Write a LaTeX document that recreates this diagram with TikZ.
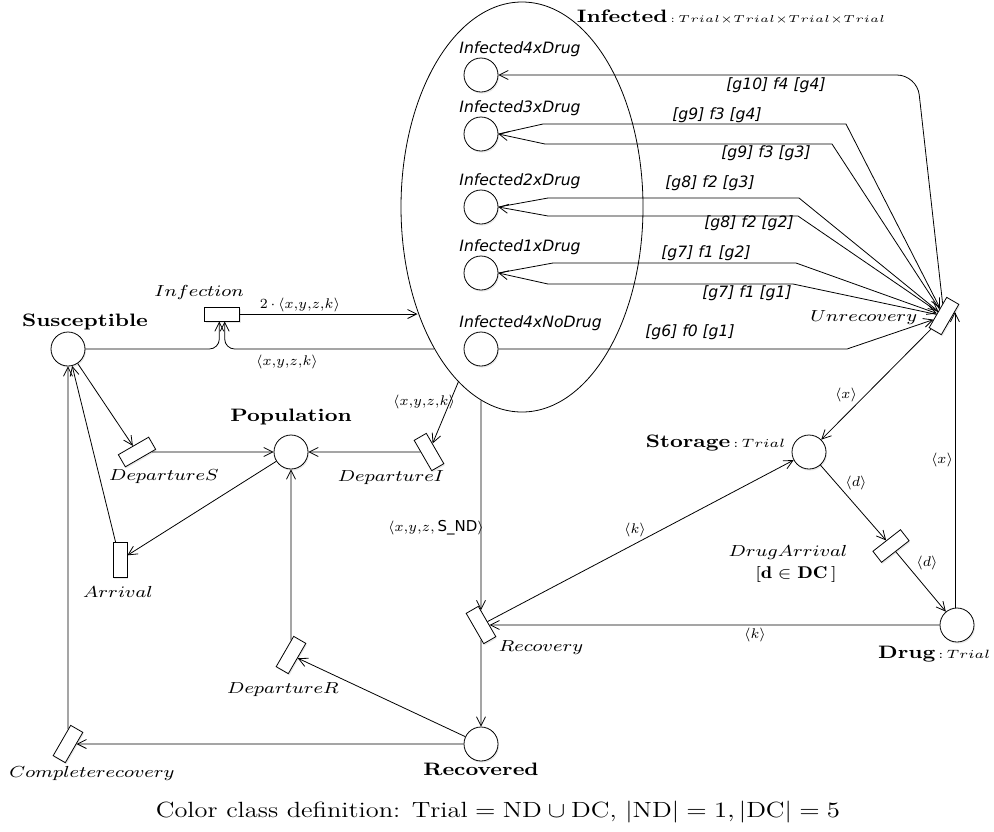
\documentclass[tikz,border=0pt]{standalone}
\usepackage{fontspec}
\newfontfamily\dvsans{DejaVu Sans}
\usepackage{amssymb}
\usetikzlibrary{arrows.meta,positioning,calc,shapes.geometric,shadows}

\begin{document}
\begin{tikzpicture}[x=0.5pt,y=-0.5pt, every node/.style={inner sep=1pt},
  place/.style={circle,draw,fill=white,minimum size=17pt,inner sep=0pt,drop shadow={opacity=0.18,shadow xshift=0.5pt,shadow yshift=-0.8pt}},
  trans/.style={rectangle,draw,fill=white,minimum width=17.5pt,minimum height=7pt,inner sep=0pt,drop shadow={opacity=0.18,shadow xshift=0.5pt,shadow yshift=-0.8pt}},
  arc/.style={-{Straight Barb[length=4.5pt,width=4.5pt]}},
  plbl/.style={font=\fontsize{9}{11}\selectfont\bfseries,xscale=1.2},
  tlbl/.style={font=\fontsize{8.5}{10}\selectfont,xscale=1.2},
  albl/.style={font=\fontsize{7.5}{9}\selectfont},
  slbl/.style={font=\dvsans\fontsize{7.8}{9}\selectfont\itshape}]
  \useasboundingbox (0,0) rectangle (994,831);

  \node[ellipse,draw,minimum width=121pt,minimum height=205pt,inner sep=0pt] (infected) at (522,207) {};
  \node[plbl,anchor=west] (infected-lbl) at (574,17) {Infected{\mdseries\fontsize{4.8}{7}\selectfont$\,{:}\,Trial{\times}Trial{\times}Trial{\times}Trial$}};
  \foreach \n/\y/\txt in {i4/75/Infected4xDrug,i3/134/Infected3xDrug,i2/207/Infected2xDrug,i1/273/Infected1xDrug,i0/349/Infected4xNoDrug}{
    \node[place] (\n) at (481,\y) {};
    \node[slbl,anchor=west] (\n-lbl) at (457,\y-26) {\txt};
  }

  \node[place] (sus) at (68,349) {};
  \node[place] (pop) at (291,452) {};
  \node[place] (recd) at (481,744) {};
  \node[place] (storage) at (809,452) {};
  \node[place] (drug) at (957,625) {};
  \node[plbl] (sus-lbl) at (85,322) {Susceptible};
  \node[plbl] (pop-lbl) at (291,417) {Population};
  \node[plbl] (recd-lbl) at (481,769) {Recovered};
  \node[plbl,anchor=east] (storage-lbl) at (788,443) {Storage{\mdseries\fontsize{5.8}{7}\selectfont$\,{:}\,Trial$}};
  \node[plbl,anchor=east] (drug-lbl) at (993,654) {Drug{\mdseries\fontsize{5.8}{7}\selectfont$\,{:}\,Trial$}};

  \node[trans] (infection) at (222,314) {};
  \node[trans,rotate=30] (deps) at (137,452) {};
  \node[trans,rotate=-60] (depi) at (429,452) {};
  \node[trans,rotate=90] (arrival) at (120,560) {};
  \node[trans,rotate=60] (depr) at (291,655) {};
  \node[trans,rotate=60] (comp) at (68,744) {};
  \node[trans,rotate=-60] (recovery) at (481,625) {};
  \node[trans,rotate=60] (unrec) at (944,316) {};
  \node[trans,rotate=38] (drugarr) at (891,546) {};
  \node[tlbl] (infection-lbl) at (199,292) {$Infection$};
  \node[tlbl] (deps-lbl) at (164,477) {$DepartureS$};
  \node[tlbl] (depi-lbl) at (391,478) {$DepartureI$};
  \node[tlbl] (arrival-lbl) at (118,592) {$Arrival$};
  \node[tlbl] (depr-lbl) at (283,690) {$DepartureR$};
  \node[tlbl] (comp-lbl) at (92,773) {$Completerecovery$};
  \node[tlbl] (recovery-lbl) at (541,648) {$Recovery$};
  \node[tlbl,anchor=east] (unrec-lbl) at (920,318) {$Unrecovery$};
  \node[tlbl] (drugarr-lbl) at (788,552) {$DrugArrival$};
  \node[tlbl] (guard-lbl) at (796,574) {$[\mathbf{d}\in\mathbf{DC}\,]$};

  \draw[arc] (infection) -- (infection -| infected.225);
  \draw[arc,rounded corners=5pt] (sus) -- (sus -| infection.250) -- (infection.250);
  \draw[arc,rounded corners=5pt] (infected.238 |- sus) -- (sus -| infection.290) -- (infection.290);
  \draw[arc] (sus) -- (deps);
  \draw[arc] (deps) -- (pop);
  \draw[arc] (depi) -- (pop);
  \draw[arc] (infected.250) -- (depi);
  \draw[arc] (pop) -- (arrival);
  \draw[arc] (arrival) -- (sus);
  \draw[arc] (comp) -- (sus);
  \draw[arc] (recd) -- (comp);
  \draw[arc] (recd) -- (depr);
  \draw[arc] (depr) -- (pop);
  \draw[arc] (recovery |- infected.258) -- (recovery);
  \draw[arc] (recovery) -- (recd);
  \draw[arc] (drug) -- (recovery);
  \draw[arc] (recovery) -- (storage);
  \draw[arc] (storage) -- (drugarr);
  \draw[arc] (drugarr) -- (drug);
  \coordinate (uin) at ($(unrec.south)!0.5!(unrec.south east)$);
  \draw[arc] (uin |- drug.north) -- (uin);
  \draw[arc] (unrec) -- (storage);

  \draw[arc,rounded corners=10pt] (unrec) -- (917,75) -- (i4);
  \draw[arc] (i3.east) -- (543,124) -- (846,124) -- (unrec);
  \draw[arc] (unrec) -- (832,144) -- (545,144) -- (i3.east);
  \draw[arc] (i2.east) -- (548,198) -- (799,198) -- (unrec);
  \draw[arc] (unrec) -- (798,216) -- (548,216) -- (i2.east);
  \draw[arc] (i1.east) -- (553,263) -- (796,263) -- (unrec);
  \draw[arc] (unrec) -- (793,284) -- (548,284) -- (i1.east);
  \draw[arc] (i0) -- (847,349) -- (unrec);
  \foreach \x/\y/\txt [count=\k] in {776/85/{[g10] f4 [g4]},717/115/{[g9] f3 [g4]},766/153/{[g9] f3 [g3]},710/183/{[g8] f2 [g3]},749/223/{[g8] f2 [g2]},706/253/{[g7] f1 [g2]},747/293/{[g7] f1 [g1]},690/332/{[g6] f0 [g1]}}
    \node[slbl] (g-\k) at (\x,\y) {\txt};

  \node[albl] (a1) at (300,305) {$2\,{\cdot}\,\langle x{,}y{,}z{,}k\rangle$};
  \node[albl] (a2) at (287,362) {$\langle x{,}y{,}z{,}k\rangle$};
  \node[albl] (a3) at (424,402) {$\langle x{,}y{,}z{,}k\rangle$};
  \node[albl] (a4) at (436,528) {$\langle x{,}y{,}z,\mbox{\dvsans S\_ND}\rangle$};
  \node[albl] (a5) at (635,530) {$\langle k\rangle$};
  \node[albl] (a6) at (755,635) {$\langle k\rangle$};
  \node[albl] (a7) at (846,395) {$\langle x\rangle$};
  \node[albl] (a8) at (942,460) {$\langle x\rangle$};
  \node[albl] (a9) at (856,483) {$\langle d\rangle$};
  \node[albl] (a10) at (927,563) {$\langle d\rangle$};

  \node[font=\fontsize{11}{13}\selectfont,xscale=1.2] (caption) at (498,812) {Color class definition: $\mathrm{Trial}=\mathrm{ND}\cup\mathrm{DC}$, $|\mathrm{ND}|=1,|\mathrm{DC}|=5$};
\end{tikzpicture}
\end{document}
